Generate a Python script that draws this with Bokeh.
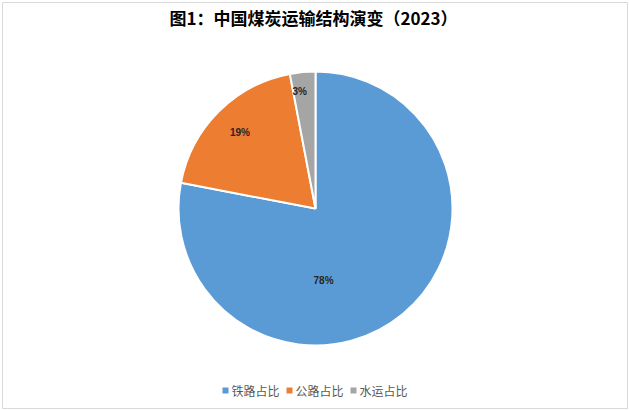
import math
from bokeh.plotting import figure
from bokeh.models import ColumnDataSource
from bokeh.core.properties import value
from bokeh.embed import file_html
from bokeh.resources import INLINE

title_text = "图1：中国煤炭运输结构演变（2023）"
categories = ["铁路占比", "公路占比", "水运占比"]
shares = [78, 19, 3]
colors = ["#5B9BD5", "#ED7D31", "#A5A5A5"]

W, H = 630, 410
cx, cy, R = 315, H - 208, 137

total = sum(shares)
starts, ends, mids = [], [], []
acc = 0
for v in shares:
    a0 = math.pi / 2 - 2 * math.pi * acc / total
    acc += v
    a1 = math.pi / 2 - 2 * math.pi * acc / total
    starts.append(a0)
    ends.append(a1)
    mids.append((a0 + a1) / 2)

src = ColumnDataSource(dict(x=[cx] * 3, y=[cy] * 3, start=starts, end=ends,
                            color=colors, cat=categories))

p = figure(width=W, height=H, x_range=(0, W), y_range=(0, H),
           output_backend="svg", toolbar_location=None, min_border=0)
p.axis.visible = False
p.grid.visible = False
p.outline_line_color = None
p.background_fill_color = "white"
p.border_fill_color = "white"

# light frame around the chart area
p.quad(left=[2], right=[W - 3], bottom=[2], top=[H - 2], fill_color=None,
       line_color="#d9d9d9", line_width=1)

p.wedge(x="x", y="y", radius=R, start_angle="start", end_angle="end",
        direction="clock", fill_color="color", line_color="white",
        line_width=2, source=src)

# data labels (Excel best-fit style placement)
lab_r = [0.53, 0.78, 0.86]
lab_shift = [-0.58, 0.0, 0.04]
lx, ly, lt = [], [], []
for i, v in enumerate(shares):
    ang = mids[i] + lab_shift[i]
    lx.append(cx + lab_r[i] * R * math.cos(ang))
    ly.append(cy + lab_r[i] * R * math.sin(ang))
    lt.append(f"{v}%")
p.text(x=lx, y=ly, text=lt, text_align="center", text_baseline="middle",
       text_font=value("Liberation Sans"), text_font_size="10px",
       text_font_style="bold", text_color="#262626")

# title
p.text(x=[313], y=[H - 17], text=[title_text], text_align="center",
       text_baseline="middle", text_font=value("Noto Sans CJK SC"),
       text_font_size="17px", text_font_style="bold", text_color="#000000")

# legend
leg_x = [225, 289, 353]
for i, c in enumerate(categories):
    p.scatter(x=[leg_x[i]], y=[H - 390], marker="square", size=6,
              fill_color=colors[i], line_color=None)
    p.text(x=[leg_x[i] + 6], y=[H - 390], text=[c], text_align="left",
           text_baseline="middle", text_font=value("Noto Sans CJK SC"),
           text_font_size="12px", text_color="#595959")

open("out.html", "w").write(file_html(p, INLINE))
